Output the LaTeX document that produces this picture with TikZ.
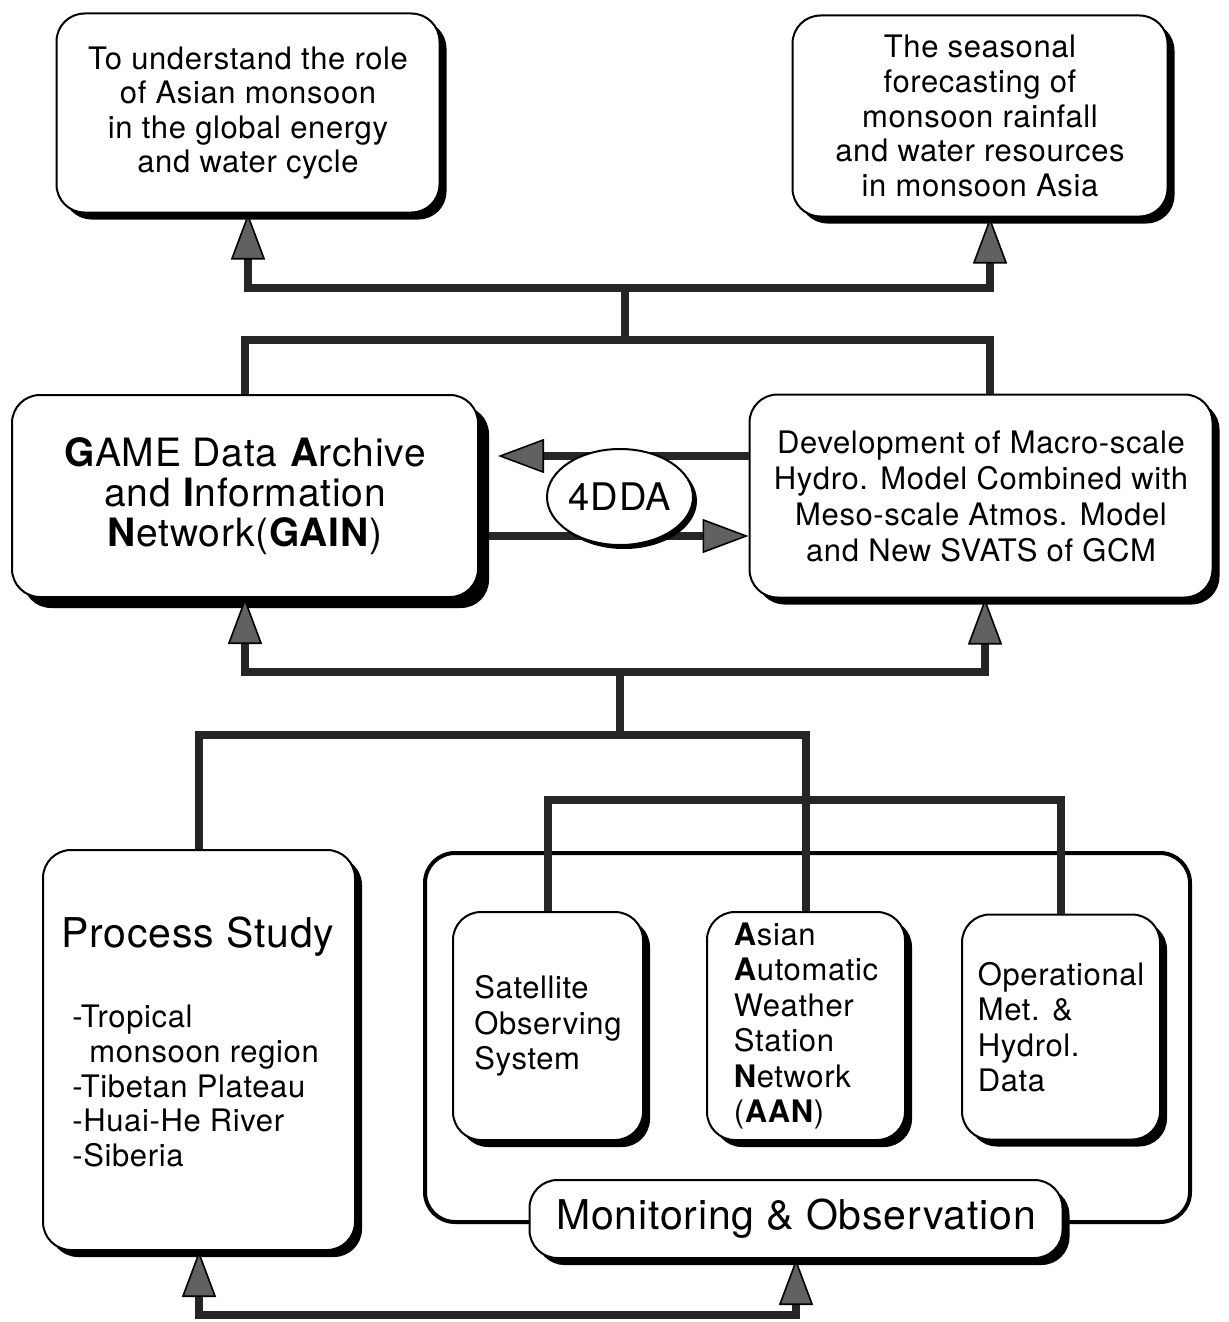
\documentclass[tikz,border=0pt]{standalone}
\usepackage{fontspec}
\setmainfont{TeX Gyre Heros}[LetterSpace=2]
\usetikzlibrary{arrows.meta,shapes.geometric,shadows}

\begin{document}
\begin{tikzpicture}[x=0.5pt,y=-0.5pt,
    box/.style={draw, line width=1pt, rounded corners=14pt, fill=white, align=center,
      drop shadow={shadow xshift=#1, shadow yshift=-#1, opacity=1, fill=black}},
    box/.default=3.5pt,
    conn/.style={line width=4pt, draw=black!85},
    arr/.style={-{Triangle[length=23pt, width=17pt, fill=black!62, color=black, line width=0.8pt]}},
    goaltxt/.style={font=\fontsize{15.5}{17.3}\selectfont},
    smalltxt/.style={font=\fontsize{15.5}{17.7}\selectfont},
    bigtxt/.style={font=\fontsize{20.5}{24}\selectfont}
  ]
    \useasboundingbox (0,0) rectangle (1229,1322);

    \node[box, goaltxt, minimum width=191.5pt, minimum height=99.5pt] (goalL) at (248,113)
        {To understand the role\\of Asian monsoon\\in the global energy\\and water cycle};
    \node[box, goaltxt, minimum width=187.5pt, minimum height=100.5pt] (goalR) at (980,116)
        {The seasonal\\forecasting of\\monsoon rainfall\\and water resources\\in monsoon Asia};

    \node[box=5.5pt, font=\fontsize{19.5}{20}\selectfont, minimum width=233pt, minimum height=101pt] (gain) at (245,496)
        {\textbf{G}AME Data \textbf{A}rchive\\and \textbf{I}nformation\\\textbf{N}etwork(\textbf{GAIN})};
    \node[box, font=\fontsize{15.5}{18}\selectfont, minimum width=231.5pt, minimum height=101.5pt] (model) at (981,496)
        {Development of Macro-scale\\Hydro. Model Combined with\\Meso-scale Atmos. Model\\and New SVATS of GCM};

    \node[box, minimum width=156pt, minimum height=200pt] (proc) at (199,1050) {};
    \node[bigtxt] (proctitle) at (198,937) {Process Study};
    \node[goaltxt, align=left, anchor=west, inner sep=0pt] (proclist) at (72,1086)
        {-Tropical\\\hspace*{8.5pt}monsoon region\\-Tibetan Plateau\\-Huai-He River\\-Siberia};

    \node[draw, line width=2pt, rounded corners=15pt, minimum width=382.5pt, minimum height=184.5pt] (monframe) at (807.5,1037.5) {};
    \node[box, smalltxt, align=left, minimum width=95pt, minimum height=114pt] (sat) at (548,1026)
        {Satellite\\Observing\\System};
    \node[box, smalltxt, align=left, minimum width=99pt, minimum height=114pt] (aan) at (806,1026)
        {\textbf{A}sian\\\textbf{A}utomatic\\Weather\\Station\\\textbf{N}etwork\\(\textbf{AAN})};
    \node[box, smalltxt, align=left, minimum width=99pt, minimum height=112.5pt] (oper) at (1061,1027)
        {Operational\\Met. \&\\Hydrol.\\Data};
    \node[box, bigtxt, minimum width=266.5pt, minimum height=39pt] (mon) at (796,1219)
        {Monitoring \& Observation};

    \coordinate (goalfork) at (625,288);
    \coordinate (goalstem) at (625,340);
    \draw[conn, arr] (goalfork) -| (goalL.south);
    \draw[conn, arr] (goalfork) -| ([xshift=5pt]goalR.south);
    \draw[conn] (goalfork) -- (goalstem);
    \draw[conn] (gain.north) |- (goalstem) -| ([xshift=4.5pt]model.north);

    \draw[conn, arr] ([yshift=20pt]model.west) -- ([yshift=20pt, xshift=9.5pt]gain.east);
    \draw[conn, arr] ([yshift=-20pt, xshift=5pt]gain.east) -- ([yshift=-20pt]model.west);

    \coordinate (datafork) at (620,672);
    \coordinate (datastem) at (620,735);
    \coordinate (obsbar) at (806,800);
    \draw[conn, arr] (datafork) -| (gain.south);
    \draw[conn, arr] (datafork) -| ([xshift=2pt]model.south);
    \draw[conn] (datafork) -- (datastem);
    \draw[conn] (proc.north) |- (datastem) -| (aan.north);
    \draw[conn] (sat.north) |- (obsbar) -| (oper.north);

    \coordinate (feedbar) at (500,1315);
    \draw[conn, arr] (feedbar) -| (proc.south);
    \draw[conn, arr] (feedbar) -| (mon.south);

    \node[box=2pt, ellipse, rounded corners=0pt, font=\fontsize{19}{22}\selectfont, minimum width=73pt, minimum height=48pt, inner sep=0pt] (fdda) at (620,497) {4DDA};
\end{tikzpicture}
\end{document}
